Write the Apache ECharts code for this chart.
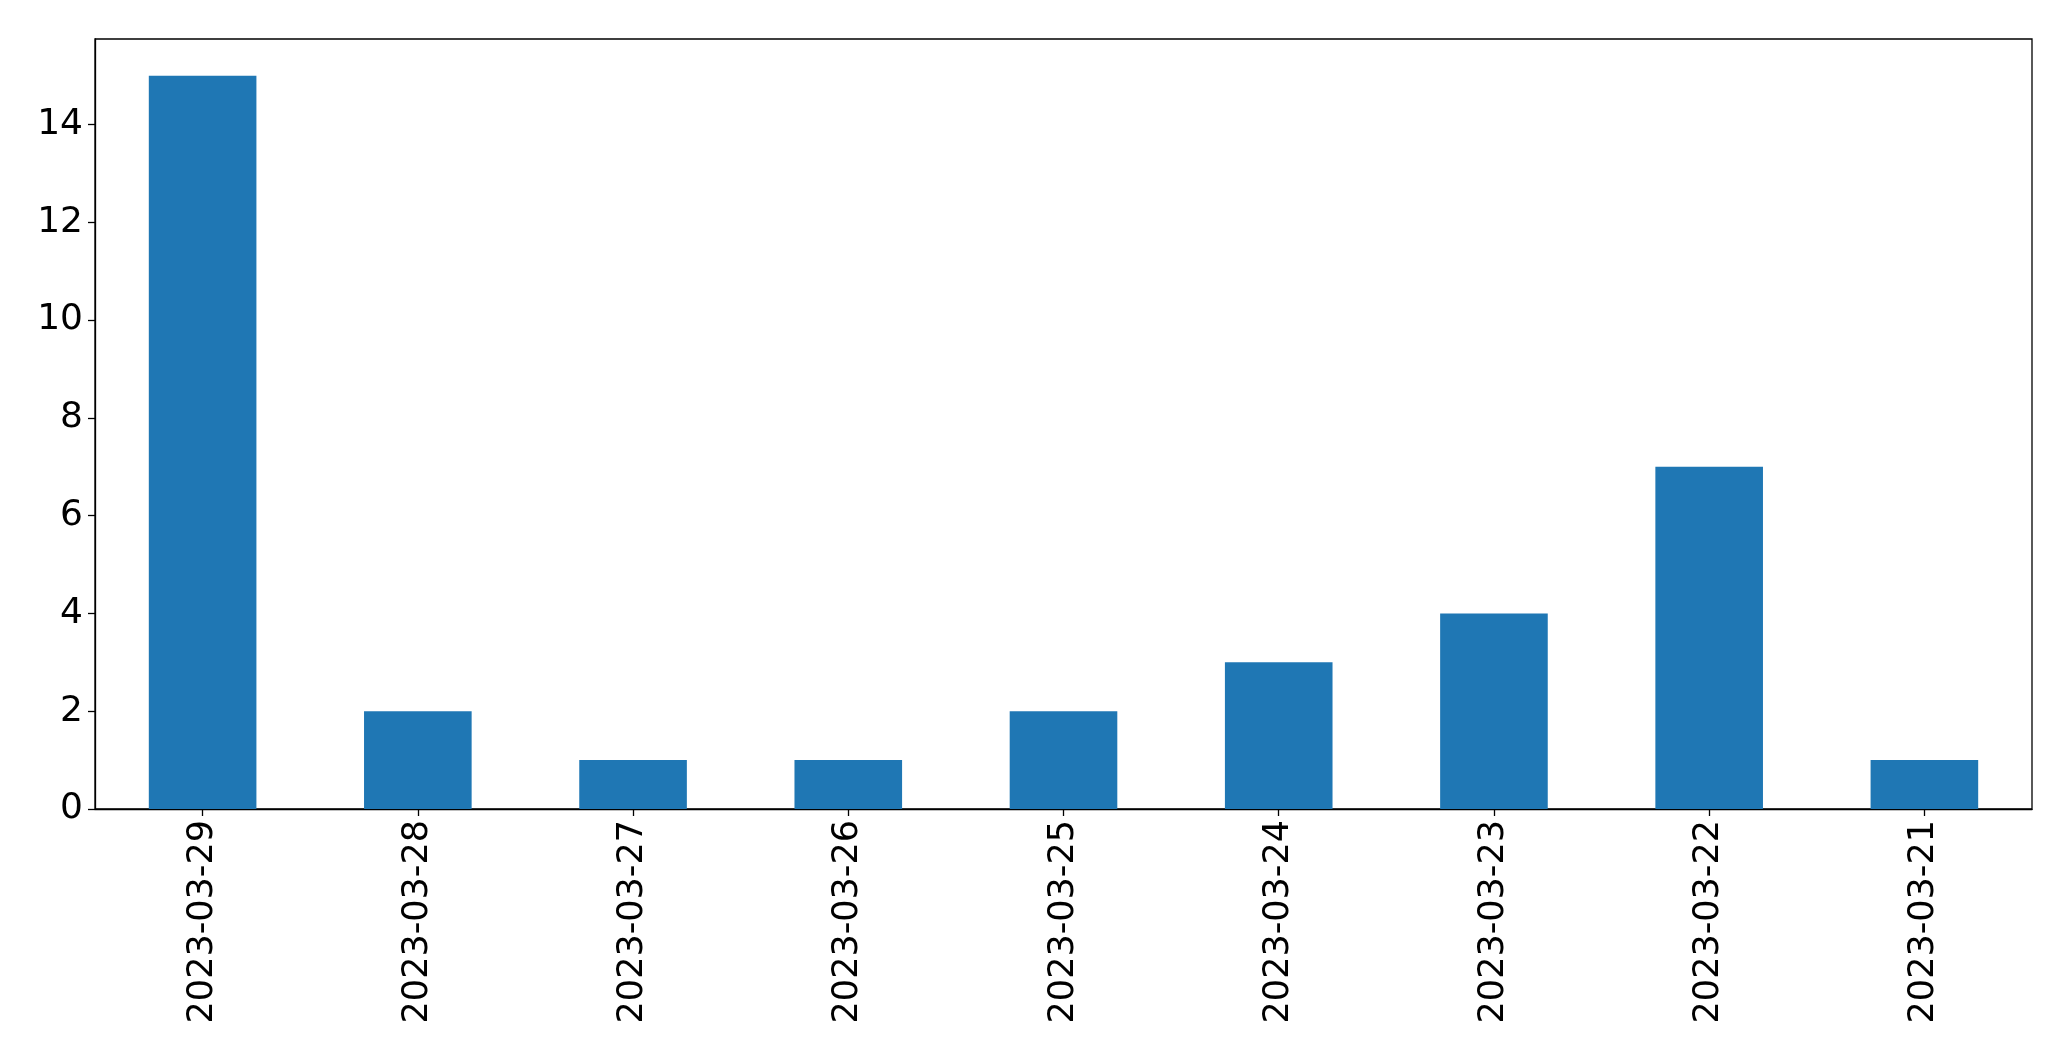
<!DOCTYPE html>
<html>
<head>
<meta charset="utf-8">
<script src="https://cdn.jsdelivr.net/npm/echarts@6/dist/echarts.min.js"></script>
<style>
html,body{margin:0;padding:0;background:#fff;}
#chart{width:2071px;height:1061px;}
</style>
</head>
<body>
<div id="chart"></div>
<script>
const categories = ['2023-03-29','2023-03-28','2023-03-27','2023-03-26','2023-03-25','2023-03-24','2023-03-23','2023-03-22','2023-03-21'];
const counts = [15, 2, 1, 1, 2, 3, 4, 7, 1];
const yTicks = [0, 2, 4, 6, 8, 10, 12, 14];

const chart = echarts.init(document.getElementById('chart'), null, {renderer: 'canvas'});
const font = 'DejaVu Sans';
chart.setOption({
  animation: false,
  backgroundColor: '#fff',
  grid: {left: 95, right: 39, top: 39, bottom: 252, show: true, borderColor: '#000', borderWidth: 1.3, containLabel: false},
  xAxis: {
    type: 'category',
    data: categories,
    boundaryGap: true,
    axisLine: {show: true, lineStyle: {color: '#000', width: 1.3}},
    axisTick: {show: true, alignWithLabel: true, length: 7, lineStyle: {color: '#000', width: 1.3}},
    axisLabel: {rotate: 90, color: '#000', fontFamily: font, fontSize: 35, margin: 11, interval: 0},
    splitLine: {show: false}
  },
  yAxis: {
    type: 'value',
    min: 0,
    max: 15.75,
    axisLine: {show: true, lineStyle: {color: '#000', width: 1.3}},
    axisTick: {show: true, length: 7, lineStyle: {color: '#000', width: 1.3}, customValues: yTicks},
    axisLabel: {color: '#000', fontFamily: font, fontSize: 36, margin: 12, customValues: yTicks},
    splitLine: {show: false}
  },
  series: [{
    type: 'bar',
    data: counts,
    barWidth: '50%',
    itemStyle: {color: '#1f77b4'}
  }]
});
</script>
</body>
</html>
